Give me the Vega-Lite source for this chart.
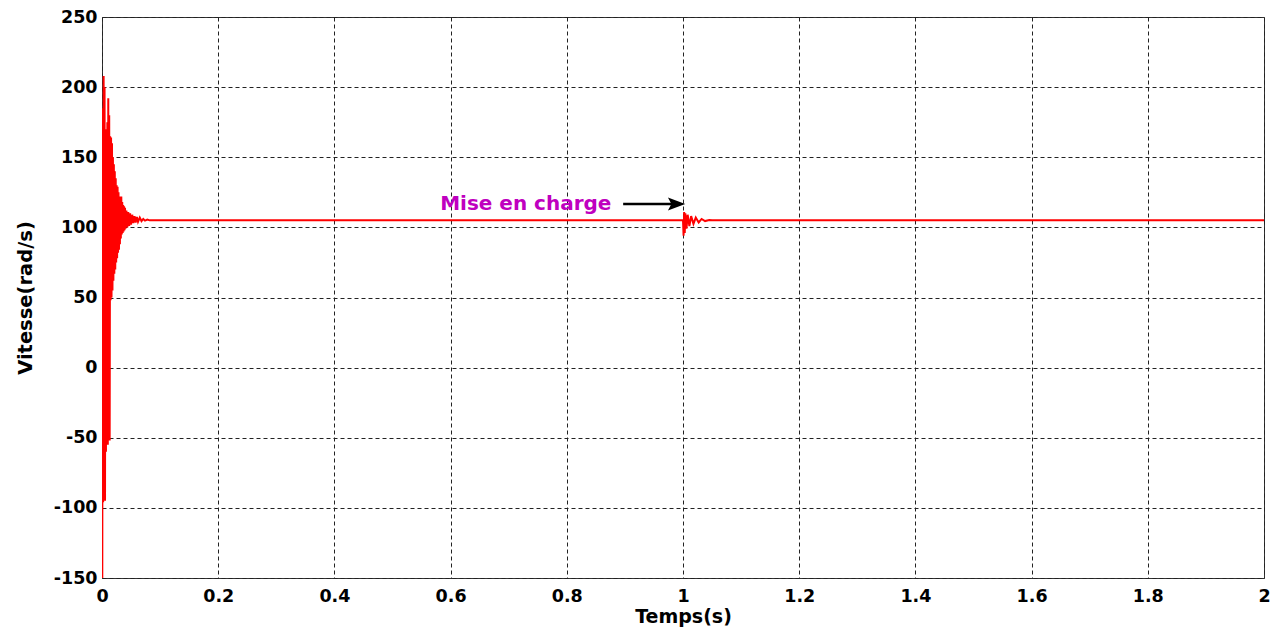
{
  "$schema": "https://vega.github.io/schema/vega-lite/v6.json",
  "autosize": "none",
  "width": 1162,
  "height": 561,
  "padding": {"left": 102, "top": 17, "right": 14, "bottom": 52},
  "background": "white",
  "config": {
    "font": "DejaVu Sans",
    "view": {"stroke": "#333", "strokeWidth": 1},
    "axis": {
      "labelFont": "DejaVu Sans", "labelFontWeight": "bold", "labelFontSize": 17.5, "labelColor": "black",
      "titleFont": "DejaVu Sans", "titleFontWeight": "bold", "titleFontSize": 19, "titleColor": "black",
      "grid": true, "gridColor": "#222", "gridDash": [4, 3], "gridWidth": 1, "gridOpacity": 1,
      "ticks": false, "domain": false, "labelExpr": "toString(datum.value)"
    }
  },
  "datasets": {
    "speed": [
      {"t": 0.0000, "v": 0},
      {"t": 0.0005, "v": -150},
      {"t": 0.0012, "v": 185},
      {"t": 0.0020, "v": -96},
      {"t": 0.0028, "v": 208},
      {"t": 0.0036, "v": -90},
      {"t": 0.0044, "v": 200},
      {"t": 0.0052, "v": -95},
      {"t": 0.0060, "v": 170},
      {"t": 0.0068, "v": -60},
      {"t": 0.0076, "v": 150},
      {"t": 0.0084, "v": -55},
      {"t": 0.0092, "v": 175},
      {"t": 0.0100, "v": -55},
      {"t": 0.0108, "v": 192},
      {"t": 0.0116, "v": -50},
      {"t": 0.0124, "v": 180},
      {"t": 0.0132, "v": -52},
      {"t": 0.0140, "v": 165},
      {"t": 0.0148, "v": 48},
      {"t": 0.0156, "v": 164},
      {"t": 0.0164, "v": 50},
      {"t": 0.0172, "v": 160},
      {"t": 0.0180, "v": 55},
      {"t": 0.0188, "v": 150},
      {"t": 0.0196, "v": 62},
      {"t": 0.0204, "v": 145},
      {"t": 0.0212, "v": 67},
      {"t": 0.0220, "v": 140},
      {"t": 0.0228, "v": 70},
      {"t": 0.0236, "v": 135},
      {"t": 0.0244, "v": 75},
      {"t": 0.0252, "v": 130},
      {"t": 0.0260, "v": 78},
      {"t": 0.0268, "v": 129},
      {"t": 0.0276, "v": 82},
      {"t": 0.0284, "v": 125},
      {"t": 0.0292, "v": 84},
      {"t": 0.0300, "v": 122},
      {"t": 0.0308, "v": 88},
      {"t": 0.0316, "v": 120},
      {"t": 0.0324, "v": 92},
      {"t": 0.0332, "v": 122},
      {"t": 0.0340, "v": 95},
      {"t": 0.0348, "v": 118},
      {"t": 0.0356, "v": 96},
      {"t": 0.0364, "v": 116},
      {"t": 0.0372, "v": 97},
      {"t": 0.0380, "v": 115},
      {"t": 0.0388, "v": 98},
      {"t": 0.0396, "v": 114},
      {"t": 0.0404, "v": 99},
      {"t": 0.0420, "v": 112},
      {"t": 0.0436, "v": 100},
      {"t": 0.0452, "v": 111},
      {"t": 0.0468, "v": 101},
      {"t": 0.0484, "v": 110},
      {"t": 0.0500, "v": 102},
      {"t": 0.0520, "v": 109},
      {"t": 0.0540, "v": 103},
      {"t": 0.0560, "v": 108},
      {"t": 0.0580, "v": 103.5},
      {"t": 0.0600, "v": 107.5},
      {"t": 0.0620, "v": 104},
      {"t": 0.0650, "v": 107},
      {"t": 0.0680, "v": 104.5},
      {"t": 0.0710, "v": 106},
      {"t": 0.0740, "v": 104.8},
      {"t": 0.0780, "v": 105.5},
      {"t": 0.0820, "v": 105},
      {"t": 1.0000, "v": 105},
      {"t": 1.0010, "v": 94},
      {"t": 1.0020, "v": 111},
      {"t": 1.0030, "v": 96},
      {"t": 1.0040, "v": 110},
      {"t": 1.0060, "v": 99},
      {"t": 1.0080, "v": 109},
      {"t": 1.0110, "v": 101},
      {"t": 1.0140, "v": 108},
      {"t": 1.0180, "v": 102.5},
      {"t": 1.0220, "v": 107},
      {"t": 1.0270, "v": 103.5},
      {"t": 1.0320, "v": 106},
      {"t": 1.0380, "v": 104.5},
      {"t": 1.0450, "v": 105.3},
      {"t": 1.0500, "v": 105},
      {"t": 2.0000, "v": 105}
    ],
    "arrow": [
      {"t": 0.897, "t2": 0.985, "v": 116.7}
    ],
    "head": [
      {"t": 0.989, "v": 116.7}
    ],
    "label": [
      {"t": 0.582, "v": 117, "text": "Mise en charge"}
    ]
  },
  "layer": [
    {
      "data": {"name": "speed"},
      "mark": {"type": "line", "color": "#ff0000", "strokeWidth": 2, "clip": true},
      "encoding": {
        "x": {
          "field": "t", "type": "quantitative", "title": "Temps(s)",
          "scale": {"domain": [0, 2], "nice": false, "zero": false},
          "axis": {"values": [0, 0.2, 0.4, 0.6, 0.8, 1, 1.2, 1.4, 1.6, 1.8, 2], "labelPadding": 9, "titlePadding": 3, "labelFlush": false}
        },
        "y": {
          "field": "v", "type": "quantitative", "title": "Vitesse(rad/s)",
          "scale": {"domain": [-150, 250], "nice": false, "zero": false},
          "axis": {"values": [-150, -100, -50, 0, 50, 100, 150, 200, 250], "labelPadding": 5, "titlePadding": 18, "titleFontSize": 19.5, "labelFlush": false}
        }
      }
    },
    {
      "data": {"name": "arrow"},
      "mark": {"type": "rule", "color": "black", "strokeWidth": 2.5},
      "encoding": {
        "x": {"field": "t", "type": "quantitative"},
        "x2": {"field": "t2"},
        "y": {"field": "v", "type": "quantitative"}
      }
    },
    {
      "data": {"name": "head"},
      "mark": {"type": "point", "shape": "M-1,-0.75L1,0L-1,0.75L-0.6,0Z", "filled": true, "color": "black", "size": 300, "opacity": 1},
      "encoding": {
        "x": {"field": "t", "type": "quantitative"},
        "y": {"field": "v", "type": "quantitative"}
      }
    },
    {
      "data": {"name": "label"},
      "mark": {"type": "text", "align": "left", "baseline": "middle", "font": "DejaVu Sans", "fontWeight": "bold", "fontSize": 20, "color": "#bf00bf"},
      "encoding": {
        "x": {"field": "t", "type": "quantitative"},
        "y": {"field": "v", "type": "quantitative"},
        "text": {"field": "text"}
      }
    }
  ]
}
